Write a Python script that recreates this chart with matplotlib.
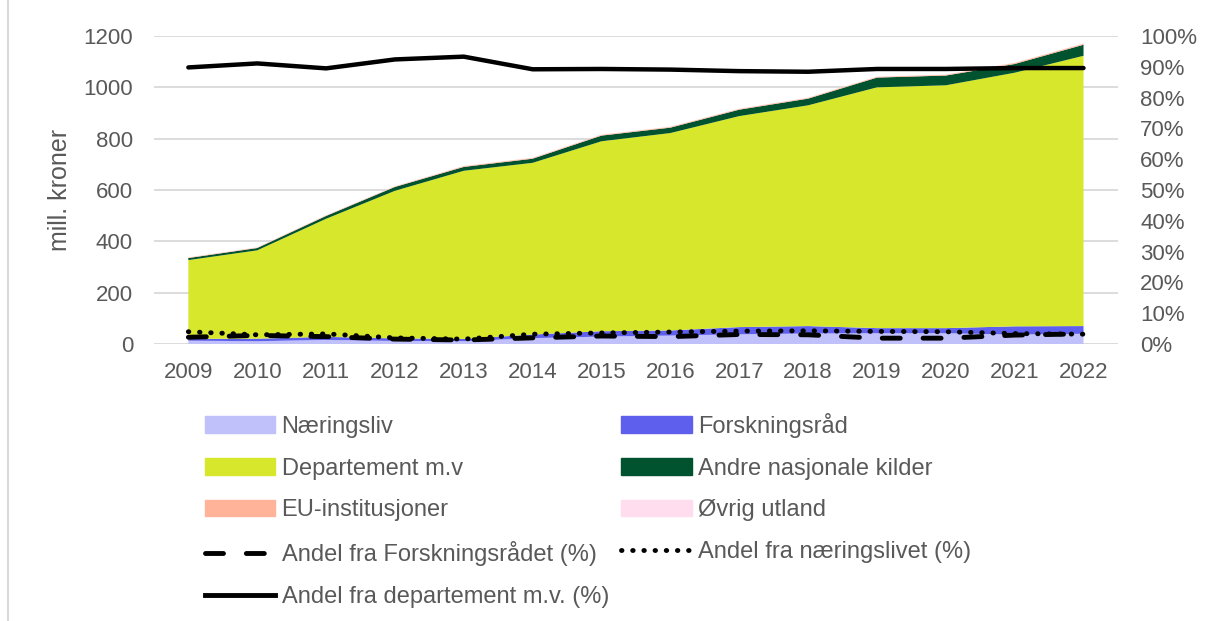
import matplotlib.pyplot as plt
from matplotlib.lines import Line2D
from matplotlib.patches import Patch
from matplotlib.ticker import PercentFormatter

plt.rcParams['font.family'] = ['Liberation Sans', 'DejaVu Sans']

years = list(range(2009, 2023))

# mill. kroner per finansieringskilde
naeringsliv = [13, 11, 16, 12, 11, 23, 29, 33, 38, 41, 42, 42, 37, 40]
forskningsrad = [7, 10, 12, 10, 9, 14, 21, 20, 28, 29, 20, 20, 32, 30]
departement = [307, 344, 460, 575, 655, 669, 740, 769, 822, 860, 938, 946, 988, 1053]
andre_nasjonale = [8, 9, 11, 15, 15, 16, 22, 21, 25, 26, 38, 38, 34, 43]
eu_institusjoner = [2, 2, 2, 2, 3, 3, 3, 3, 3, 3, 3, 3, 4, 4]
ovrig_utland = [1, 1, 1, 1, 1, 1, 1, 1, 1, 1, 1, 1, 1, 1]

# andeler (%)
andel_forsk = [2.2, 2.8, 2.4, 1.6, 1.3, 2.0, 2.6, 2.4, 3.1, 3.0, 1.9, 1.9, 2.9, 3.3]
andel_naer = [4.0, 3.0, 3.3, 2.0, 1.6, 3.2, 3.6, 3.9, 4.2, 4.3, 4.1, 4.0, 3.4, 3.2]
andel_dep = [89.8, 91.1, 89.5, 92.4, 93.3, 89.2, 89.3, 89.1, 88.6, 88.4, 89.3, 89.3, 89.6, 89.6]

area_labels = ['Næringsliv', 'Forskningsråd', 'Departement m.v', 'Andre nasjonale kilder',
               'EU-institusjoner', 'Øvrig utland']
area_colors = ['#C0C0FA', '#5F5FEE', '#D7E72C', '#00532E', '#FFB49A', '#FFDDEE']
txt = '#595959'
dash = (0, (3.7, 4.7))
dots = (0, (0.1, 2.2))

fig = plt.figure(figsize=(12.12, 6.21), dpi=100)
ax = fig.add_axes([0.127, 0.446, 0.7954, 0.496])

ax.stackplot(years, naeringsliv, forskningsrad, departement, andre_nasjonale,
             eu_institusjoner, ovrig_utland, colors=area_colors, lw=0)
ax.set_xlim(2008.5, 2022.5)
ax.set_ylim(0, 1200)
ax.set_yticks(range(0, 1201, 200))
ax.set_xticks(years)
ax.grid(axis='y', color='#D9D9D9', lw=1.3)
ax.set_axisbelow(True)
ax.set_ylabel('mill. kroner', fontsize=18, color=txt, labelpad=8)
ax.tick_params(axis='y', length=0, labelsize=16, labelcolor=txt, pad=15)
ax.tick_params(axis='x', length=0, labelsize=16, labelcolor=txt, pad=13)
for s in ax.spines.values():
    s.set_visible(False)

ax2 = ax.twinx()
ax2.plot(years, andel_dep, color='black', lw=3.2, solid_capstyle='round')
ax2.plot(years, andel_forsk, color='black', lw=3.5, ls=dash, dash_capstyle='round')
ax2.plot(years, andel_naer, color='black', lw=3.5, ls=dots, dash_capstyle='round')
ax2.set_ylim(0, 100)
ax2.set_yticks(range(0, 101, 10))
ax2.yaxis.set_major_formatter(PercentFormatter(decimals=0))
ax2.tick_params(length=0, labelsize=16, labelcolor=txt, pad=16)
for s in ax2.spines.values():
    s.set_visible(False)

h = [Patch(color=c) for c in area_colors]
l_forsk = Line2D([], [], color='black', lw=3.5, ls=dash, dash_capstyle='round')
l_naer = Line2D([], [], color='black', lw=3.5, ls=dots, dash_capstyle='round')
l_dep = Line2D([], [], color='black', lw=3.5)
handles = [h[0], h[2], h[4], l_forsk, l_dep, h[1], h[3], h[5], l_naer]
labels = [area_labels[0], area_labels[2], area_labels[4], 'Andel fra Forskningsrådet (%)',
          'Andel fra departement m.v. (%)', area_labels[1], area_labels[3], area_labels[5],
          'Andel fra næringslivet (%)']
leg = fig.legend(handles, labels, ncol=2, loc='upper left', bbox_to_anchor=(0.1614, 0.3506),
                 frameon=False, fontsize=17, handlelength=2.97, handletextpad=0.27,
                 labelspacing=0.84, columnspacing=0.53, borderaxespad=0)
for t in leg.get_texts():
    t.set_color(txt)

fig.add_artist(Line2D([0.007, 0.007], [0, 1], color='#D9D9D9', lw=1.5))

fig.savefig('out.png', dpi=100)
